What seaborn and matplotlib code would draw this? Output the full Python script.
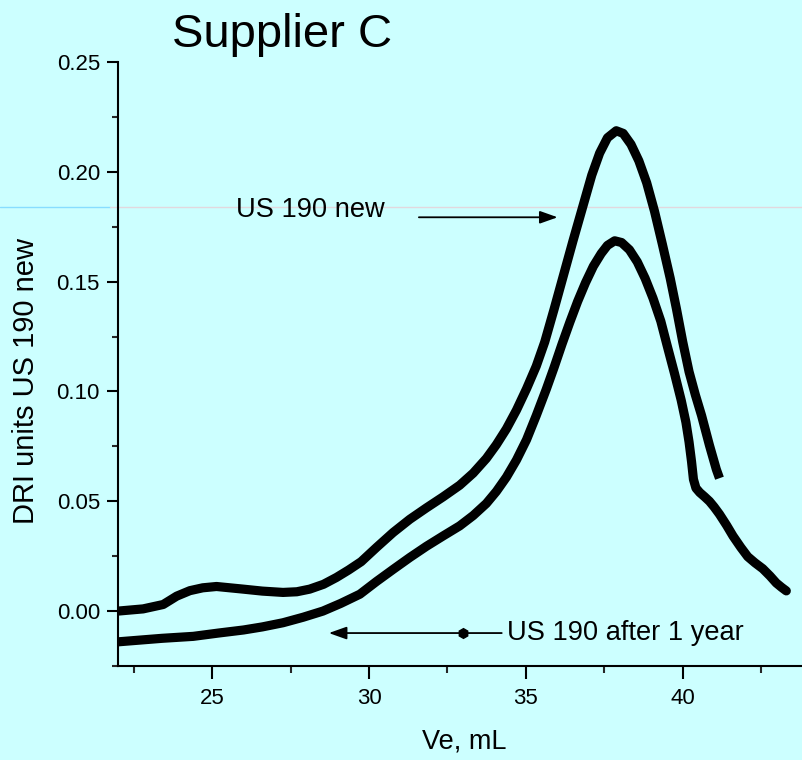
import matplotlib
matplotlib.use("Agg")
import matplotlib.pyplot as plt
from matplotlib.ticker import FixedLocator, FormatStrFormatter
from matplotlib.lines import Line2D
import seaborn as sns
import pandas as pd

# ---- data ----
new_x = [22.0, 22.8, 23.44, 23.87, 24.29, 24.7, 25.14, 25.99, 26.6, 27.26,
         27.7, 28.11, 28.55, 28.96, 29.35, 29.75, 30.24, 30.77, 31.3, 31.83,
         32.36, 32.89, 33.32, 33.74, 34.06, 34.38, 34.7, 35.02, 35.33, 35.6,
         35.9, 36.2, 36.5, 36.8, 37.1, 37.35, 37.6, 37.88, 38.1, 38.35,
         38.6, 38.85, 39.1, 39.35, 39.6, 39.8, 40.0, 40.2, 40.4, 40.6,
         40.85, 41.07, 41.17]
new_y = [0.000, 0.001, 0.003, 0.0068, 0.0093, 0.0106, 0.0112, 0.0100, 0.0091, 0.0085,
         0.0088, 0.0100, 0.0122, 0.0153, 0.0187, 0.0225, 0.0290, 0.0358, 0.0418, 0.0470,
         0.0520, 0.0573, 0.0628, 0.0695, 0.0758, 0.0830, 0.0915, 0.1012, 0.1115, 0.1225,
         0.1375, 0.1530, 0.1685, 0.1835, 0.1985, 0.2085, 0.2155, 0.2187, 0.2175, 0.2125,
         0.2050, 0.1950, 0.1820, 0.1670, 0.1515, 0.1375, 0.1225, 0.1090, 0.0985, 0.0890,
         0.0755, 0.0645, 0.0605]

old_x = [22.0, 22.7, 23.4, 24.4, 25.2, 26.0, 26.6, 27.26, 27.9, 28.53,
         29.1, 29.71, 30.24, 30.77, 31.3, 31.83, 32.36, 32.89, 33.32, 33.74,
         34.06, 34.38, 34.7, 35.02, 35.33, 35.65, 35.9, 36.15, 36.4, 36.65,
         36.9, 37.15, 37.4, 37.6, 37.83, 38.05, 38.3, 38.55, 38.8, 39.05,
         39.3, 39.5, 39.74, 39.95, 40.1, 40.2, 40.28, 40.34, 40.42, 40.54,
         40.7, 40.85, 41.0, 41.17, 41.4, 41.6, 41.85, 42.07, 42.3, 42.55,
         42.78, 42.98, 43.15, 43.3]
old_y = [-0.0140, -0.0132, -0.0124, -0.0115, -0.0100, -0.0086, -0.0072, -0.0053, -0.0028, 0.0000,
         0.0035, 0.0077, 0.0135, 0.0190, 0.0244, 0.0295, 0.0342, 0.0388, 0.0435, 0.0490,
         0.0545, 0.0610, 0.0688, 0.0780, 0.0890, 0.1010, 0.1110, 0.1215, 0.1315, 0.1410,
         0.1495, 0.1570, 0.1628, 0.1665, 0.1686, 0.1678, 0.1645, 0.1590, 0.1515, 0.1425,
         0.1320, 0.1210, 0.1080, 0.0960, 0.0860, 0.0770, 0.0680, 0.0600, 0.0560, 0.0540,
         0.0520, 0.0500, 0.0474, 0.0441, 0.0390, 0.0342, 0.0290, 0.0248, 0.0220, 0.0193,
         0.0160, 0.0128, 0.0108, 0.0092]

x_major = [25, 30, 35, 40]
x_minor = [22.5, 27.5, 32.5, 37.5, 42.5]
y_major = [0.00, 0.05, 0.10, 0.15, 0.20, 0.25]
y_minor = [-0.025, 0.025, 0.075, 0.125, 0.175, 0.225]

title = "Supplier C"
xlabel = "Ve, mL"
ylabel = "DRI units US 190 new"
label_new = "US 190 new"
label_old = "US 190 after 1 year"

# ---- style ----
sns.set_theme(style="ticks")
plt.rcParams["font.family"] = ["Liberation Sans", "DejaVu Sans"]
BG = "#CCFFFF"

fig = plt.figure(figsize=(8.02, 7.6), dpi=100, facecolor=BG)
ax = fig.add_axes([118 / 802, 1 - 666 / 760, 1 - 118 / 802, (666 - 62) / 760])
ax.set_facecolor("none")

df_new = pd.DataFrame({"x": new_x, "y": new_y})
df_old = pd.DataFrame({"x": old_x, "y": old_y})
sns.lineplot(data=df_new, x="x", y="y", ax=ax, color="black", linewidth=6.6,
             sort=False, estimator=None, solid_capstyle="butt", solid_joinstyle="round")
sns.lineplot(data=df_old, x="x", y="y", ax=ax, color="black", linewidth=6.6,
             sort=False, estimator=None, solid_capstyle="round", solid_joinstyle="round")

ax.set_xlim(22, 43.8)
ax.set_ylim(-0.025, 0.25)
ax.xaxis.set_major_locator(FixedLocator(x_major))
ax.xaxis.set_minor_locator(FixedLocator(x_minor))
ax.yaxis.set_major_locator(FixedLocator(y_major))
ax.yaxis.set_minor_locator(FixedLocator(y_minor))
ax.yaxis.set_major_formatter(FormatStrFormatter("%.2f"))

for s in ["top", "right"]:
    ax.spines[s].set_visible(False)
for s in ["left", "bottom"]:
    ax.spines[s].set_color("black")
    ax.spines[s].set_linewidth(1.5)

ax.tick_params(axis="x", which="major", length=9.5, width=1.5, direction="out",
               labelsize=16, pad=6, colors="black")
ax.tick_params(axis="x", which="minor", length=5, width=1.5, direction="out")
ax.tick_params(axis="y", which="major", length=8, width=1.5, direction="out",
               labelsize=16, pad=5, colors="black")
ax.tick_params(axis="y", which="minor", length=4.2, width=1.5, direction="out")

ax.set_xlabel(xlabel, fontsize=19.5, color="black")
ax.set_ylabel(ylabel, fontsize=21, color="black")
ax.xaxis.set_label_coords((464 - 118) / (802 - 118), -(742 - 666) / (666 - 62))
ax.yaxis.set_label_coords(-(118 - 26) / (802 - 118), (666 - 381) / (666 - 62))
ax.xaxis.label.set_va("center")
ax.yaxis.label.set_va("center")

fig.text(282 / 802, 1 - 47 / 760, title, fontsize=34, ha="center", va="baseline",
         color="black")

# annotations
ax.text(25.75, 0.1795, label_new, fontsize=19.6, ha="left", va="baseline", color="black")
ax.annotate("", xy=(36.01, 0.1793), xytext=(31.59, 0.1793),
            arrowprops=dict(arrowstyle="-|>,head_length=0.9,head_width=0.32",
                            color="black", lw=1.3, shrinkA=0, shrinkB=0))

ax.text(34.39, -0.0132, label_old, fontsize=19.6, ha="left", va="baseline", color="black")
ax.annotate("", xy=(28.72, -0.0100), xytext=(34.23, -0.0100),
            arrowprops=dict(arrowstyle="-|>,head_length=0.9,head_width=0.32",
                            color="black", lw=1.3, shrinkA=0, shrinkB=0))
ax.plot([32.99], [-0.0100], marker="h", markersize=7, color="black", clip_on=False)

# faint horizontal artifact line across the slide (behind everything)
fig.add_artist(Line2D([0, 110 / 802], [1 - 207 / 760] * 2, color="#88DDFF", lw=1,
                      transform=fig.transFigure, zorder=-5))
fig.add_artist(Line2D([110 / 802, 1], [1 - 207 / 760] * 2, color="#E2D8DE", lw=1,
                      transform=fig.transFigure, zorder=-5))

fig.savefig("out.png", dpi=100, facecolor=BG)
